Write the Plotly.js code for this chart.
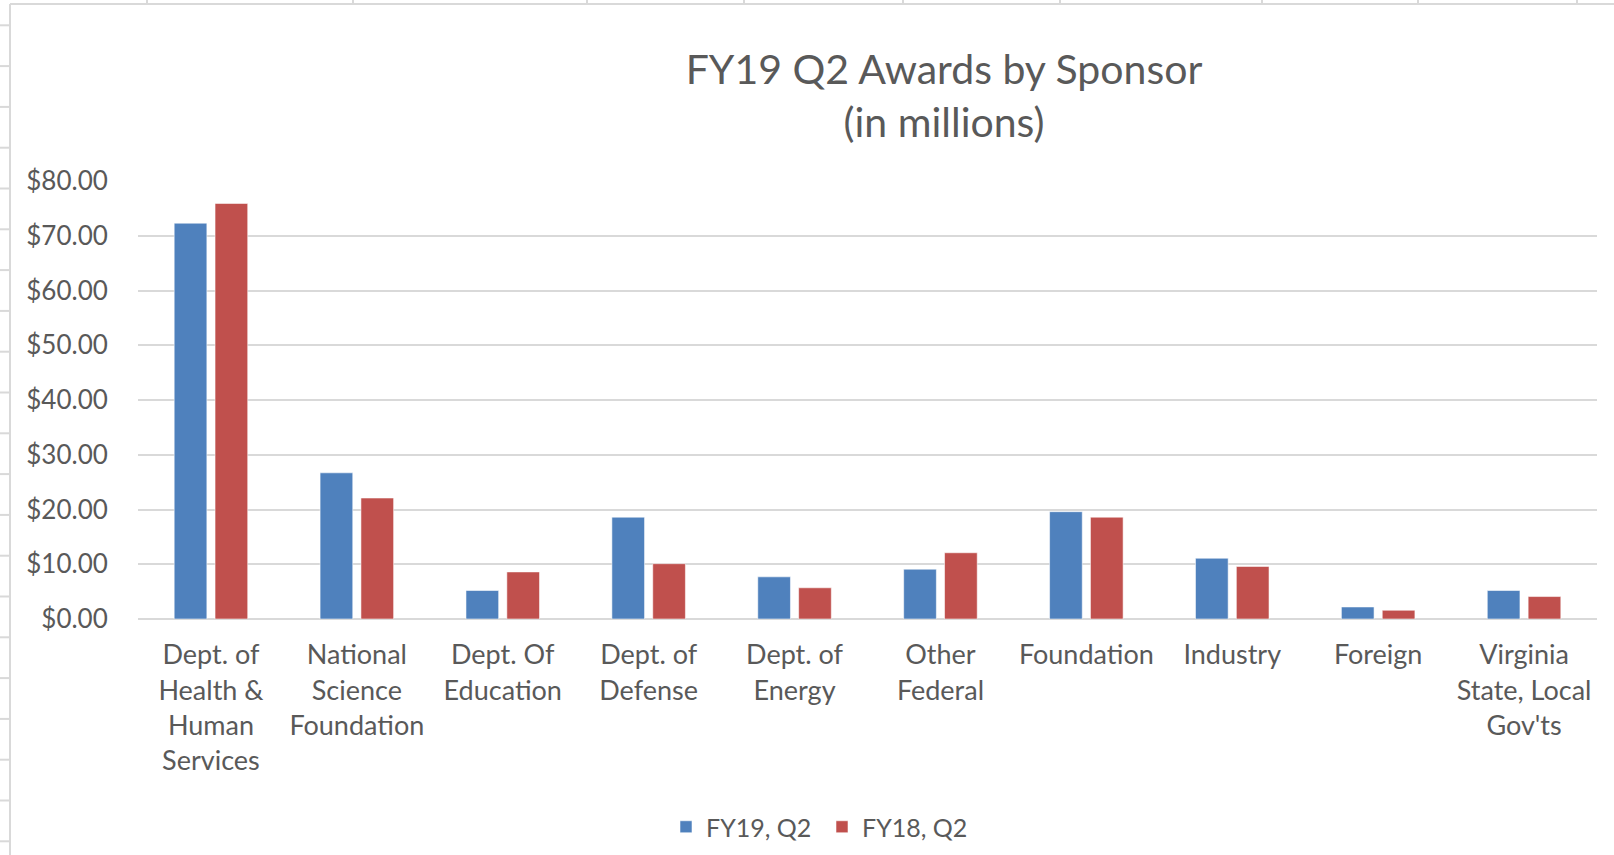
<!DOCTYPE html>
<html>
<head>
<meta charset="utf-8">
<script src="https://cdn.plot.ly/plotly-3.0.1.min.js"></script>
<style>
html, body { margin: 0; padding: 0; background: #ffffff; }
#chart { width: 1614px; height: 855px; }
</style>
</head>
<body>
<div id="chart"></div>
<script>
// ---- data ----
const categories = [
  "Dept. of<br>Health &<br>Human<br>Services",
  "National<br>Science<br>Foundation",
  "Dept. Of<br>Education",
  "Dept. of<br>Defense",
  "Dept. of<br>Energy",
  "Other<br>Federal",
  "Foundation",
  "Industry",
  "Foreign",
  "Virginia<br>State, Local<br>Gov'ts"
];
const fy19q2 = [72.3, 26.7, 5.2, 18.6, 7.7, 9.1, 19.6, 11.1, 2.2, 5.2];
const fy18q2 = [75.9, 22.1, 8.6, 10.1, 5.7, 12.1, 18.6, 9.6, 1.6, 4.1];
const seriesNames = ["FY19, Q2", "FY18, Q2"];
const yTickVals = [0, 10, 20, 30, 40, 50, 60, 70, 80];
const yTickText = ["$0.00", "$10.00", "$20.00", "$30.00", "$40.00", "$50.00", "$60.00", "$70.00", "$80.00"];

// ---- geometry helpers (pixels -> paper) ----
const W = 1614, H = 855;
const PL = 138, PR = 1597, PT = 181, PB = 619;
const px = x => (x - PL) / (PR - PL);
const py = y => (PB - y) / (PB - PT);

const FONT = "Lato, 'Open Sans', sans-serif";
const TXT = "#595959";
const GRID = "#D9D9D9";

// decorative spreadsheet grid around the chart area
const shapes = [];
const colLines = [147, 353, 587, 744, 903, 1060, 1262, 1418, 1577];
colLines.forEach(x => shapes.push({type: "line", xref: "paper", yref: "paper",
  x0: px(x), x1: px(x), y0: py(0), y1: py(4), line: {color: GRID, width: 2}, layer: "below"}));
for (let y = 25.3; y < H; y += 40.8) {
  shapes.push({type: "line", xref: "paper", yref: "paper",
    x0: px(0), x1: px(10), y0: py(y), y1: py(y), line: {color: GRID, width: 2}, layer: "below"});
}
// chart area border
shapes.push({type: "line", xref: "paper", yref: "paper", x0: px(10), x1: px(10), y0: py(4), y1: py(H + 5),
  line: {color: GRID, width: 2}, layer: "below"});
shapes.push({type: "line", xref: "paper", yref: "paper", x0: px(10), x1: px(W + 5), y0: py(4), y1: py(4),
  line: {color: GRID, width: 2}, layer: "below"});

const traces = [
  {type: "bar", name: seriesNames[0], x: categories, y: fy19q2,
   marker: {color: "#4F81BD", line: {color: "rgba(255,255,255,0.55)", width: 1}}, hoverinfo: "y"},
  {type: "bar", name: seriesNames[1], x: categories, y: fy18q2,
   marker: {color: "#C0504D", line: {color: "rgba(255,255,255,0.55)", width: 1}}, hoverinfo: "y"}
];

const layout = {
  width: W, height: H,
  margin: {l: PL, r: W - PR, t: PT, b: H - PB, pad: 0, autoexpand: false},
  paper_bgcolor: "#ffffff",
  plot_bgcolor: "#ffffff",
  font: {family: FONT, color: TXT, size: 26},
  title: {
    text: "FY19 Q2 Awards by Sponsor<br>(in millions)",
    font: {family: FONT, size: 41, color: TXT},
    xref: "paper", x: px(944), xanchor: "center",
    yref: "container", y: 1 - 84 / H, yanchor: "top"
  },
  barmode: "group",
  bargap: 0.44,
  bargroupgap: 0.2,
  xaxis: {
    tickfont: {family: FONT, size: 27, color: TXT},
    ticks: "outside", ticklen: 12, tickcolor: "rgba(0,0,0,0)",
    showgrid: false, zeroline: false, showline: false,
    tickangle: 0, fixedrange: true, automargin: false
  },
  yaxis: {
    range: [0, 80],
    tickvals: yTickVals, ticktext: yTickText,
    tickfont: {family: FONT, size: 26, color: TXT},
    ticks: "outside", ticklen: 24, tickcolor: "rgba(0,0,0,0)",
    showgrid: true, gridcolor: GRID, gridwidth: 2,
    zeroline: true, zerolinecolor: GRID, zerolinewidth: 2,
    showline: false, fixedrange: true, automargin: false
  },
  showlegend: true,
  legend: {
    orientation: "h",
    x: px(666), xanchor: "left",
    y: py(827), yanchor: "middle",
    font: {family: FONT, size: 25, color: TXT},
    entrywidth: 111, entrywidthmode: "pixels",
    bgcolor: "rgba(0,0,0,0)", borderwidth: 0,
    traceorder: "normal"
  },
  shapes: shapes
};

Plotly.newPlot("chart", traces, layout, {displayModeBar: false, staticPlot: true});
</script>
</body>
</html>
